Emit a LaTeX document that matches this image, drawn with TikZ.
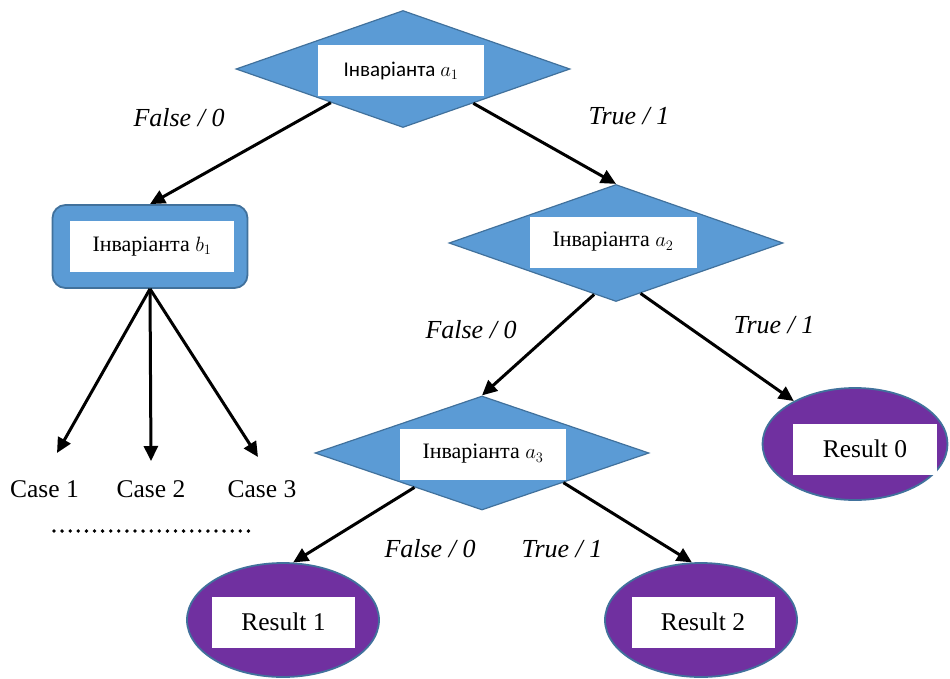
\documentclass[tikz,border=0pt]{standalone}
\usepackage{fontspec}
\setmainfont{Liberation Serif}
\newfontfamily\calfont{Carlito}
\usetikzlibrary{shapes.geometric,arrows.meta}
\definecolor{dblue}{HTML}{5B9BD5}
\definecolor{dedge}{HTML}{41719C}
\definecolor{dpurple}{HTML}{7030A0}
\tikzset{
  decision/.style={diamond, fill=dblue, draw=dedge, line width=1.2pt, inner sep=0pt,
    minimum width=334pt, minimum height=117pt},
  whitebox/.style={fill=white, inner sep=0pt, minimum width=#1, minimum height=51pt,
    font=\fontsize{22}{26}\selectfont},
  resultnode/.style={ellipse, fill=dpurple, draw=dedge, line width=1.8pt, inner sep=0pt},
  resbox/.style={fill=white, inner sep=0pt, minimum width=143pt, minimum height=51pt,
    font=\fontsize{25.5}{30}\selectfont},
  lbl/.style={font=\fontsize{26}{30}\selectfont\itshape, inner sep=0pt},
  casetxt/.style={font=\fontsize{25.5}{30}\selectfont, inner sep=0pt, anchor=base},
  arr/.style={line width=3pt, -{Triangle[length=15pt,width=14pt]}},
}
\begin{document}
\begin{tikzpicture}[x=1pt,y=-1pt]
\useasboundingbox (0,0) rectangle (950,678);

% decisions
\node[decision] (d1) at (403,69) {};
\node[whitebox=166pt, font=\fontsize{21}{25}\calfont] (t1) at (401,70.5) {Інваріанта $a_1$};
\node[decision] (d2) at (616,243) {};
\node[whitebox=167pt] (t2) at (613,242) {Інваріанта $a_2$};
\node[decision, minimum height=114pt] (d3) at (482,453) {};
\node[whitebox=166pt] (t3) at (483,454) {Інваріанта $a_3$};

% b1 box
\node[rectangle, rounded corners=13pt, fill=dblue, draw=dedge, line width=1.8pt,
      minimum width=195pt, minimum height=83pt, inner sep=0pt] (b1) at (150,246.5) {};
\node[whitebox=164pt] (tb) at (152,246.5) {Інваріанта $b_1$};

% results
\node[resultnode, minimum width=192pt, minimum height=114pt] (r1) at (283,620) {};
\node[resbox] (tr1) at (283.5,622) {Result 1};
\node[resultnode, minimum width=192pt, minimum height=114pt] (r2) at (701,620) {};
\node[resbox] (tr2) at (703,622) {Result 2};
\node[resultnode, minimum width=185pt, minimum height=112pt] (r0) at (855,444) {};
\node[resbox, minimum width=144pt] (tr0) at (865,449) {Result 0};

% cases
\node[casetxt] (c1) at (44.5,497) {Case 1};
\node[casetxt] (c2) at (151,497) {Case 2};
\node[casetxt] (c3) at (262,497) {Case 3};
\coordinate (e1) at (57,453);
\coordinate (e2) at (151,461);
\coordinate (e3) at (258,457);
\coordinate (dotsL) at (54,531);
\coordinate (dotsR) at (250,531);
\draw[line width=3.8pt, line cap=round, dash pattern=on 0pt off 8.1pt] (dotsL) -- (dotsR);

% edge labels
\node[lbl] (l1) at (179,118) {False / 0};
\node[lbl] (l2) at (629,116) {True / 1};
\node[lbl] (l3) at (471,330) {False / 0};
\node[lbl] (l4) at (774,325) {True / 1};
\node[lbl] (l5) at (430,549) {False / 0};
\node[lbl] (l6) at (562,549) {True / 1};

% arrows
\draw[arr] (d1.205) -- (b1.north);
\draw[arr] (d1.334) -- (d2.north);
\draw[arr] (d2.247) -- (d3.north);
\draw[arr] (d2.296) -- (r0);
\draw[arr] (b1.south) -- (e1);
\draw[arr] (b1.south) -- (e2);
\draw[arr] (b1.south) -- (e3);
\draw[arr] (d3.207) -- (r1.80);
\draw[arr] (d3.340) -- (r2.99);
\end{tikzpicture}
\end{document}
